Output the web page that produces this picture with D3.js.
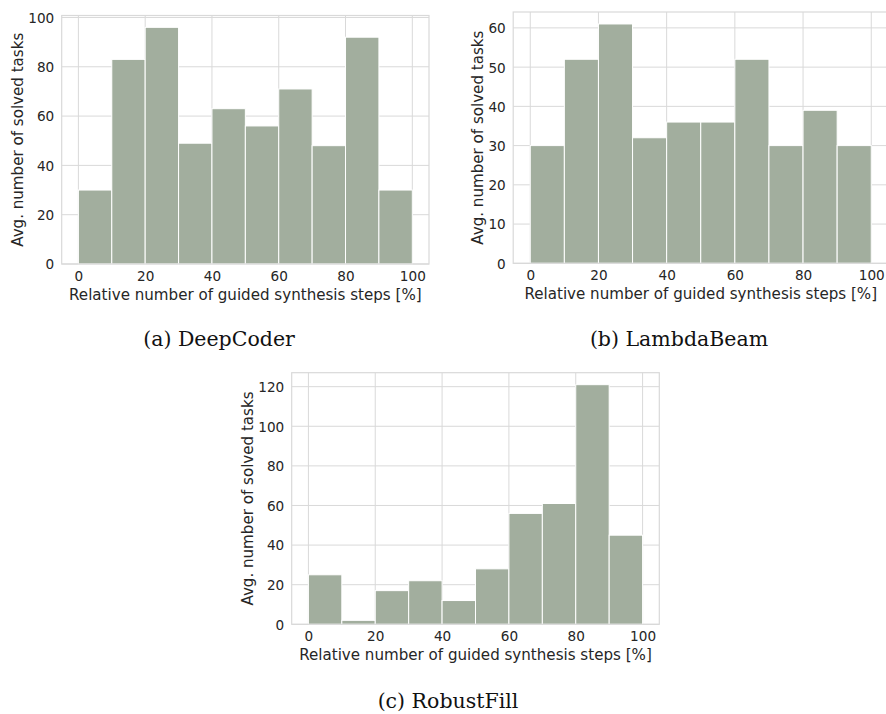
<!DOCTYPE html>
<html>
<head>
<meta charset="utf-8">
<script src="https://cdn.jsdelivr.net/npm/d3@7"></script>
<style>
  body { margin: 0; background: #fff; }
  svg { display: block; }
  .tick text { font-family: "DejaVu Sans", sans-serif; font-size: 13.6px; fill: #262626; }
  .axlabel { font-family: "DejaVu Sans", sans-serif; font-size: 15.1px; fill: #262626; }
  .caption { font-family: "DejaVu Serif", serif; font-size: 20.5px; fill: #111; }
</style>
</head>
<body>
<svg id="fig" width="886" height="714"></svg>
<script>
// bin edges (percent) shared by all histograms
var binEdges = [0, 10, 20, 30, 40, 50, 60, 70, 80, 90, 100];
var xTicks = [0, 20, 40, 60, 80, 100];

// avg. number of solved tasks per bin
var deepCoder = [30, 83, 96, 49, 63, 56, 71, 48, 92, 30];
var lambdaBeam = [30, 52, 61, 32, 36, 36, 52, 30, 39, 30];
var robustFill = [25, 2, 17, 22, 12, 28, 56, 61, 121, 45];

var yTicksA = [0, 20, 40, 60, 80, 100];
var yTicksB = [0, 10, 20, 30, 40, 50, 60];
var yTicksC = [0, 20, 40, 60, 80, 100, 120];

var xLabel = "Relative number of guided synthesis steps [%]";
var yLabel = "Avg. number of solved tasks";

var barColor = "#a2ae9e";
var gridColor = "#d9d9d9";

var svg = d3.select("#fig");

function drawHist(values, yTicks, box, caption) {
  var x = d3.scaleLinear().domain([-5, 105]).range([box.left, box.right]);
  var yMax = d3.max(values) * 1.05;
  var y = d3.scaleLinear().domain([0, yMax]).range([box.bottom, box.top]);

  var g = svg.append("g");

  // grid
  g.append("g").selectAll("line.gx")
    .data(xTicks)
    .enter().append("line")
    .attr("x1", d => x(d)).attr("x2", d => x(d))
    .attr("y1", box.top).attr("y2", box.bottom)
    .attr("stroke", gridColor).attr("stroke-width", 1);
  g.append("g").selectAll("line.gy")
    .data(yTicks)
    .enter().append("line")
    .attr("x1", box.left).attr("x2", box.right)
    .attr("y1", d => y(d)).attr("y2", d => y(d))
    .attr("stroke", gridColor).attr("stroke-width", 1);

  // bars
  var bins = values.map((v, i) => ({ x0: binEdges[i], x1: binEdges[i + 1], v: v }));
  g.append("g").selectAll("rect")
    .data(bins)
    .enter().append("rect")
    .attr("x", d => x(d.x0))
    .attr("width", d => x(d.x1) - x(d.x0))
    .attr("y", d => y(d.v))
    .attr("height", d => y(0) - y(d.v))
    .attr("fill", barColor)
    .attr("stroke", "#fff")
    .attr("stroke-width", 1);

  // spines
  g.append("rect")
    .attr("x", box.left).attr("y", box.top)
    .attr("width", box.right - box.left).attr("height", box.bottom - box.top)
    .attr("fill", "none").attr("stroke", gridColor).attr("stroke-width", 1.2);

  // axes (labels only, no tick marks)
  var xAxis = g.append("g")
    .attr("transform", "translate(0," + box.bottom + ")")
    .call(d3.axisBottom(x).tickValues(xTicks).tickSize(0).tickPadding(7.5));
  xAxis.select(".domain").remove();

  var yAxis = g.append("g")
    .attr("transform", "translate(" + box.left + ",0)")
    .call(d3.axisLeft(y).tickValues(yTicks).tickSize(0).tickPadding(7.5));
  yAxis.select(".domain").remove();
  yAxis.selectAll(".tick text").attr("dy", "0.36em");

  g.append("text")
    .attr("class", "axlabel")
    .attr("x", (box.left + box.right) / 2)
    .attr("y", box.bottom + 35.5)
    .attr("text-anchor", "middle")
    .text(xLabel);

  g.append("text")
    .attr("class", "axlabel")
    .attr("transform", "translate(" + (box.left - box.ylab) + "," + (box.top + box.bottom) / 2 + ") rotate(-90)")
    .attr("text-anchor", "middle")
    .text(yLabel);

  g.append("text")
    .attr("class", "caption")
    .attr("x", box.capX)
    .attr("y", box.capY)
    .attr("text-anchor", "middle")
    .text(caption);
}

drawHist(deepCoder, yTicksA,
  { left: 61.7, right: 429, top: 15.5, bottom: 264, ylab: 39, capX: 219, capY: 346 },
  "(a) DeepCoder");
drawHist(lambdaBeam, yTicksB,
  { left: 513.2, right: 888.3, top: 12, bottom: 263.3, ylab: 30, capX: 679, capY: 346 },
  "(b) LambdaBeam");
drawHist(robustFill, yTicksC,
  { left: 291.7, right: 659.3, top: 372.7, bottom: 624.3, ylab: 38.5, capX: 448, capY: 708 },
  "(c) RobustFill");
</script>
</body>
</html>
